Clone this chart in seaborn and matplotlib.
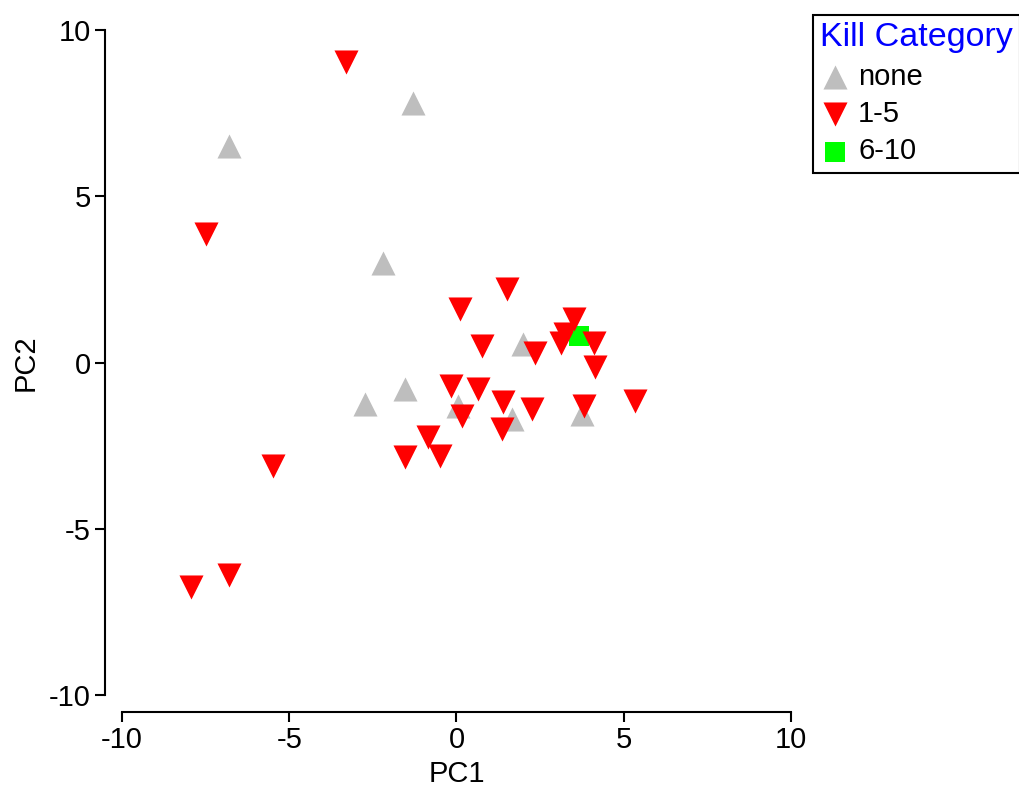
import matplotlib
matplotlib.use("Agg")
import matplotlib.pyplot as plt
import seaborn as sns
import pandas as pd

# ---- data ----
none_pc1 = [-1.3, -6.8, -2.2, -2.75, -1.55, 0.05, 2.0, 1.65, 3.75]
none_pc2 = [7.8, 6.5, 3.0, -1.25, -0.8, -1.3, 0.55, -1.7, -1.55]

k15_pc1 = [-3.3, -7.5, 0.1, 1.5, 0.75, 2.35, 3.5, 3.12, 4.1, 4.15, -0.15, 0.65,
           1.4, 2.25, 3.8, 5.35, 0.15, 1.35, -0.85, -1.55, -0.5, -5.5, -6.8, -7.95,
           3.25]
k15_pc2 = [9.05, 3.85, 1.6, 2.2, 0.5, 0.3, 1.3, 0.6, 0.6, -0.15, -0.7, -0.8,
           -1.2, -1.4, -1.3, -1.15, -1.6, -2.0, -2.25, -2.85, -2.8, -3.1, -6.4, -6.75,
           0.85]

k610_pc1 = [3.65]
k610_pc2 = [0.8]

categories = ["none", "1-5", "6-10"]
colors = {"none": "#bebebe", "1-5": "#ff0000", "6-10": "#00ff00"}
markers = {"none": "^", "1-5": "v", "6-10": "s"}
sizes = {"none": 300, "1-5": 300, "6-10": 210}
zorders = {"none": 3, "6-10": 3.5, "1-5": 4}

df = pd.concat([
    pd.DataFrame({"PC1": none_pc1, "PC2": none_pc2, "cat": "none"}),
    pd.DataFrame({"PC1": k15_pc1, "PC2": k15_pc2, "cat": "1-5"}),
    pd.DataFrame({"PC1": k610_pc1, "PC2": k610_pc2, "cat": "6-10"}),
], ignore_index=True)

sns.set_style("ticks")
plt.rcParams["font.family"] = ["Liberation Sans", "DejaVu Sans"]
plt.rcParams["axes.unicode_minus"] = False
plt.rcParams["text.color"] = "black"
plt.rcParams["axes.labelcolor"] = "black"

fig = plt.figure(figsize=(10.2, 7.86), dpi=100)
ax = fig.add_axes([122 / 1020, 1 - 695 / 786, 669 / 1020, 665 / 786])

for c in categories:
    sub = df[df["cat"] == c]
    sns.scatterplot(data=sub, x="PC1", y="PC2", ax=ax, color=colors[c],
                    marker=markers[c], s=sizes[c], linewidth=0, label=c,
                    clip_on=False, zorder=zorders[c])

ax.set_xlim(-10, 10)
ax.set_ylim(-10, 10)
ax.set_xticks([-10, -5, 0, 5, 10])
ax.set_yticks([-10, -5, 0, 5, 10])
for s in ["top", "right"]:
    ax.spines[s].set_visible(False)
for s in ["left", "bottom"]:
    ax.spines[s].set_position(("outward", 12.5))
    ax.spines[s].set_linewidth(1.5)
    ax.spines[s].set_color("black")
ax.tick_params(axis="both", labelsize=21, length=7, width=1.5, pad=3,
               color="black", labelcolor="black")
ax.set_xlabel("PC1", fontsize=21, labelpad=4, color="black")
ax.set_ylabel("PC2", fontsize=21, labelpad=7, color="black")

handles, labels = ax.get_legend_handles_labels()
order = [labels.index(c) for c in categories]
handles = [handles[i] for i in order]
labels = [labels[i] for i in order]
leg = ax.legend(handles, labels, title="Kill Category", loc="upper left",
                bbox_to_anchor=(813 / 1020, 1 - 15 / 786),
                bbox_transform=fig.transFigure, borderaxespad=0,
                fontsize=21, title_fontsize=24.5, frameon=True, fancybox=False,
                edgecolor="black", framealpha=1, alignment="left",
                handletextpad=0.3, handlelength=1.0, labelspacing=0.32,
                borderpad=0.25)
leg.get_title().set_color("#0000ff")
for t in leg.get_texts():
    t.set_color("black")
leg.get_frame().set_linewidth(1.5)

fig.savefig("out.png", dpi=100)
